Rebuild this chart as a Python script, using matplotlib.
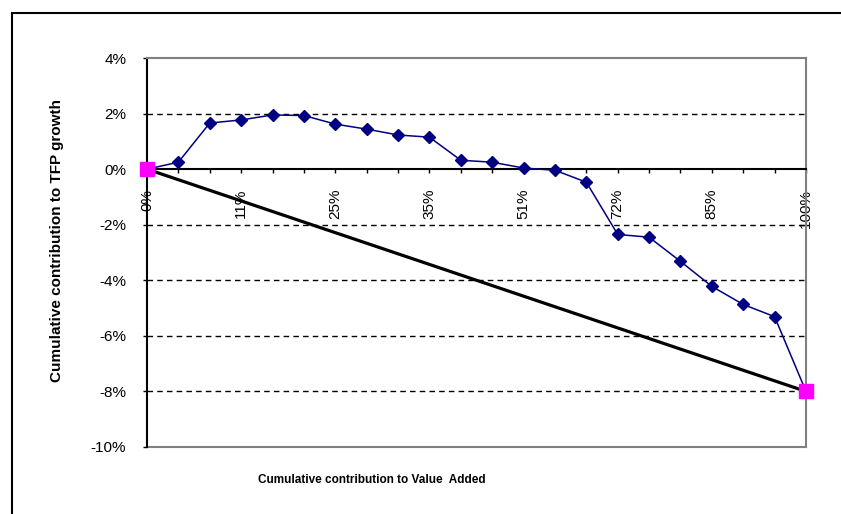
import matplotlib.pyplot as plt
from matplotlib.patches import Rectangle
from matplotlib.ticker import FuncFormatter

plt.rcParams['font.family'] = ['Liberation Sans', 'DejaVu Sans']

# cumulative contribution to TFP growth (%), one point per industry step
tfp_cum = [0.0, 0.25, 1.66, 1.77, 1.95, 1.93, 1.62, 1.44, 1.23, 1.15, 0.32,
           0.25, 0.04, -0.04, -0.47, -2.35, -2.45, -3.32, -4.22, -4.87, -5.31, -8.0]
# x tick labels: cumulative value added share, shown every 3rd point
va_labels = ['0%', '11%', '25%', '35%', '51%', '72%', '85%', '100%']
label_step = 3
# straight reference line between the end points
ref_x = [0, len(tfp_cum) - 1]
ref_y = [tfp_cum[0], tfp_cum[-1]]

fig = plt.figure(figsize=(8.41, 5.14), dpi=100)
ax = fig.add_axes([147 / 841, 67 / 514, 659 / 841, 389 / 514])

# outer chart border (runs off the right/bottom edge like the original)
fig.patches.append(Rectangle((12 / 841, -0.05), 1.0, (514 - 13) / 514 + 0.05,
                             transform=fig.transFigure, fill=False,
                             edgecolor='black', linewidth=1.5))

x = list(range(len(tfp_cum)))
ax.plot(ref_x, ref_y, color='black', linewidth=2.3, zorder=3)
ax.plot(x, tfp_cum, color='#000080', linewidth=1.1, marker='D', markersize=6.5,
        markerfacecolor='#000080', markeredgecolor='#000080', zorder=4)
ax.plot(ref_x, ref_y, linestyle='none', marker='s', markersize=10,
        color='#FF00FF', zorder=5, clip_on=False)

ax.set_xlim(0, len(tfp_cum) - 1)
ax.set_ylim(-10, 4)
ax.set_yticks(range(-10, 5, 2))
ax.yaxis.set_major_formatter(FuncFormatter(lambda v, p: '%d%%' % v))

for yv in [2, -2, -4, -6, -8]:
    ax.axhline(yv, color='black', linewidth=1, linestyle=(0, (4, 3)), zorder=1)

# plot area frame in gray, the zero line acts as the x axis
ax.spines['top'].set_color('#808080')
ax.spines['right'].set_color('#808080')
ax.spines['top'].set_linewidth(1.5)
ax.spines['right'].set_linewidth(1.5)
ax.axhline(-10, color='#808080', linewidth=1.5, clip_on=False, zorder=2)
ax.spines['bottom'].set_position(('data', 0))
ax.spines['bottom'].set_linewidth(1.5)
ax.spines['left'].set_linewidth(1.5)

ax.set_xticks(x)
ax.set_xticklabels([va_labels[i // label_step] if i % label_step == 0 else ''
                    for i in x], rotation=90, fontsize=11)
ax.tick_params(axis='x', direction='out', length=3, width=1, pad=11)
ax.tick_params(axis='y', direction='out', length=3, width=1, pad=12, labelsize=11)
for lbl in ax.get_xticklabels():
    lbl.set_va('top')

fig.text(57 / 841, 1 - 240 / 514, 'Cumulative contribution to TFP growth',
         rotation=90, ha='center', va='center', fontsize=11, fontweight='bold')
fig.text(372 / 841, 1 - 480 / 514, 'Cumulative contribution to Value  Added',
         ha='center', va='center', fontsize=8.5, fontweight='bold')

fig.savefig('out.png', dpi=100)
